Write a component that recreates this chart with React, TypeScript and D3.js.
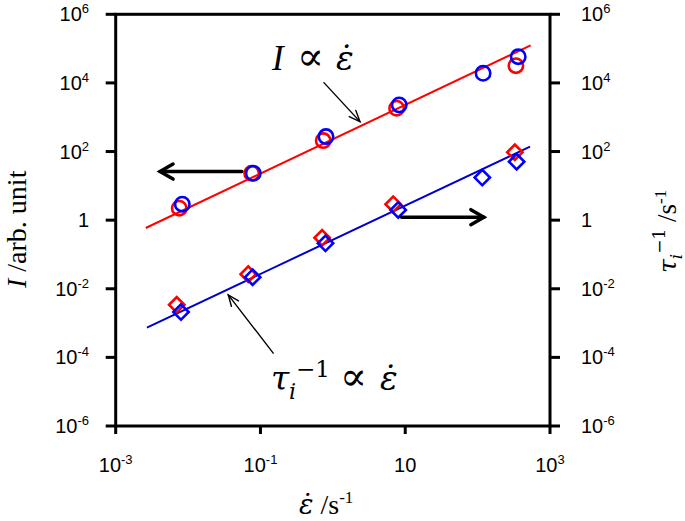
import React, { useEffect, useRef } from "react";
import * as d3 from "d3";

// log axes, tick values
const xTicks = [1e-3, 1e-1, 10, 1e3];
const yTicks = [1e-6, 1e-4, 1e-2, 1, 1e2, 1e4, 1e6];

// I (left axis) - red circles
const intRedX = [0.00755, 0.0755, 0.736, 7.6, 338];
const intRedY = [2.23, 23.3, 208, 1830, 31800];
// I (left axis) - blue circles
const intBlueX = [0.00832, 0.0796, 0.804, 8.26, 119, 364];
const intBlueY = [2.92, 23.3, 272, 2280, 19100, 58200];
// tau_i^-1 (right axis) - red diamonds
const tauRedX = [0.00697, 0.0678, 0.711, 6.82, 327];
const tauRedY = [0.0034, 0.0267, 0.305, 2.92, 95.5];
// tau_i^-1 (right axis) - blue diamonds
const tauBlueX = [0.00798, 0.078, 0.791, 8.0, 116, 346];
const tauBlueY = [0.00209, 0.0218, 0.211, 1.99, 17.4, 50.8];

// fitted lines (slope 1 on log-log)
const fitIntX = [0.0026, 540];
const fitIntY = [0.59, 124000];
const fitTauX = [0.0027, 530];
const fitTauY = [0.00074, 139];

// annotation arrows, in data coords [x1, y1, x2, y2]
const axisArrows = [
  [0.055, 26, 0.0041, 26],
  [8.9, 1.22, 122, 1.22],
];
const noteArrows = [
  [0.753, 10200, 2.37, 745],
  [0.15, 1.33e-4, 0.0359, 0.00665],
];

const W = 685;
const H = 521;
const left = 115.7, right = 550, top = 14.3, bottom = 426;

const serif = "'Liberation Serif', 'Times New Roman', serif";
const math = "'DejaVu Serif', 'Liberation Serif', serif";
const sans = "'Liberation Sans', Arial, sans-serif";

export default function App() {
  const ref = useRef<SVGSVGElement>(null);

  useEffect(() => {
    const svg = d3.select(ref.current);
    svg.selectAll("*").remove();

    const x = d3.scaleLog().domain([1e-3, 1e3]).range([left, right]);
    const y = d3.scaleLog().domain([1e-6, 1e6]).range([bottom, top]);

    // power of ten label with superscript
    const powLabel = (t: any, v: number) => {
      const e = Math.round(Math.log10(v));
      if (e === 0) t.text("1");
      else if (e === 1) t.text("10");
      else {
        t.append("tspan").text("10");
        t.append("tspan").attr("dy", -8).attr("font-size", 13).text(String(e));
      }
    };

    // frame
    svg.append("rect")
      .attr("x", left).attr("y", top)
      .attr("width", right - left).attr("height", bottom - top)
      .attr("fill", "none").attr("stroke", "#000").attr("stroke-width", 3);

    // y ticks both sides
    yTicks.forEach((v) => {
      svg.append("line").attr("x1", left - 10).attr("x2", left)
        .attr("y1", y(v)).attr("y2", y(v))
        .attr("stroke", "#000").attr("stroke-width", 3);
      svg.append("line").attr("x1", right).attr("x2", right + 10)
        .attr("y1", y(v)).attr("y2", y(v))
        .attr("stroke", "#000").attr("stroke-width", 3);
      const tl = svg.append("text").attr("x", 89).attr("y", y(v) + 7)
        .attr("text-anchor", "end").attr("font-family", sans).attr("font-size", 20);
      powLabel(tl, v);
      const tr = svg.append("text").attr("x", 581).attr("y", y(v) + 7)
        .attr("font-family", sans).attr("font-size", 20);
      powLabel(tr, v);
    });

    // x ticks
    xTicks.forEach((v) => {
      svg.append("line").attr("x1", x(v)).attr("x2", x(v))
        .attr("y1", bottom).attr("y2", bottom + 8)
        .attr("stroke", "#000").attr("stroke-width", 3);
      const tb = svg.append("text").attr("x", x(v)).attr("y", 472)
        .attr("text-anchor", "middle").attr("font-family", sans).attr("font-size", 20);
      powLabel(tb, v);
    });

    const line = d3.line<number>();

    // fit lines
    svg.append("path")
      .attr("d", line(fitIntX.map((d, i) => [x(d), y(fitIntY[i])]) as any))
      .attr("stroke", "#ff0000").attr("stroke-width", 2).attr("fill", "none");
    svg.append("path")
      .attr("d", line(fitTauX.map((d, i) => [x(d), y(fitTauY[i])]) as any))
      .attr("stroke", "#0000cc").attr("stroke-width", 2).attr("fill", "none");

    // circles
    const circles = (xs: number[], ys: number[], color: string) => {
      svg.append("g").selectAll("circle")
        .data(xs)
        .enter()
        .append("circle")
        .attr("cx", (d) => x(d))
        .attr("cy", (d, i) => y(ys[i]))
        .attr("r", 7.2)
        .attr("fill", "none")
        .attr("stroke", color)
        .attr("stroke-width", 2.6);
    };
    circles(intRedX, intRedY, "#ff0000");
    circles(intBlueX, intBlueY, "#0000ff");

    // diamonds
    const diamond = d3.symbol().type(d3.symbolSquare).size(118);
    const diamonds = (xs: number[], ys: number[], color: string) => {
      svg.append("g").selectAll("path")
        .data(xs)
        .enter()
        .append("path")
        .attr("d", diamond as any)
        .attr("transform", (d, i) => `translate(${x(d)},${y(ys[i])}) rotate(45)`)
        .attr("fill", "none")
        .attr("stroke", color)
        .attr("stroke-width", 2.6);
    };
    diamonds(tauRedX, tauRedY, "#ff0000");
    diamonds(tauBlueX, tauBlueY, "#0000ff");

    // arrows with open heads
    const arrow = (a: number[], width: number, len: number, half: number) => {
      const x1 = x(a[0]), y1 = y(a[1]), x2 = x(a[2]), y2 = y(a[3]);
      const ang = Math.atan2(y2 - y1, x2 - x1);
      const bx = x2 - len * Math.cos(ang), by = y2 - len * Math.sin(ang);
      const px = -Math.sin(ang) * half, py = Math.cos(ang) * half;
      const g = svg.append("g").attr("stroke", "#000").attr("stroke-width", width)
        .attr("fill", "none").attr("stroke-linecap", "round").attr("stroke-linejoin", "miter");
      g.append("line").attr("x1", x1).attr("y1", y1).attr("x2", x2).attr("y2", y2);
      g.append("path").attr("d", `M${bx + px},${by + py}L${x2},${y2}L${bx - px},${by - py}`);
    };
    axisArrows.forEach((a) => arrow(a, 3.5, 13, 7.5));
    noteArrows.forEach((a) => arrow(a, 1.4, 11, 4.5));

    // annotation: I ∝ ε̇
    const t1 = svg.append("text").attr("y", 70).attr("font-size", 35).attr("font-family", serif);
    t1.append("tspan").attr("x", 272).attr("font-style", "italic").text("I");
    t1.append("tspan").attr("x", 297).attr("font-family", math).attr("font-size", 40).text("∝");
    t1.append("tspan").attr("x", 336).attr("font-family", math).attr("font-style", "italic").attr("font-size", 33).text("ε̇");

    // annotation: τi^-1 ∝ ε̇
    const t2 = svg.append("text").attr("y", 390).attr("font-size", 33).attr("font-family", math);
    t2.append("tspan").attr("x", 271).attr("font-style", "italic").text("τ");
    t2.append("tspan").attr("x", 289).attr("dy", 9).attr("font-style", "italic").attr("font-size", 22).text("i");
    t2.append("tspan").attr("x", 296).attr("dy", -22).attr("font-size", 23).text("−1");
    t2.append("tspan").attr("x", 340).attr("dy", 13).attr("font-size", 40).text("∝");
    t2.append("tspan").attr("x", 380).attr("font-style", "italic").attr("font-size", 33).text("ε̇");

    // left axis title
    const yl = svg.append("text").attr("transform", "translate(26,0) rotate(-90)")
      .attr("x", -288).attr("font-family", serif).attr("font-size", 28);
    yl.append("tspan").attr("font-style", "italic").text("I");
    yl.append("tspan").text(" /arb. unit");

    // right axis title
    const yr = svg.append("text").attr("transform", "translate(676,0) rotate(-90)")
      .attr("x", -273).attr("font-family", math).attr("font-size", 25);
    yr.append("tspan").attr("font-style", "italic").text("τ");
    yr.append("tspan").attr("dy", 6).attr("font-style", "italic").attr("font-size", 17).text("i");
    yr.append("tspan").attr("dy", -17).attr("font-size", 17).text("−1");
    yr.append("tspan").attr("dy", 11).attr("font-family", serif).attr("font-size", 27).text(" /s");
    yr.append("tspan").attr("dy", -10).attr("font-family", serif).attr("font-size", 17).text("-1");

    // bottom axis title
    const xl = svg.append("text").attr("x", 299).attr("y", 514)
      .attr("font-family", serif).attr("font-size", 28);
    xl.append("tspan").attr("font-family", math).attr("font-style", "italic").attr("font-size", 27).text("ε̇");
    xl.append("tspan").text(" /s");
    xl.append("tspan").attr("dy", -11).attr("font-size", 17).text("-1");
  }, []);

  return (
    <svg
      ref={ref}
      width={W}
      height={H}
      style={{ position: "absolute", left: 0, top: 0, background: "#fff" }}
    ></svg>
  );
}
